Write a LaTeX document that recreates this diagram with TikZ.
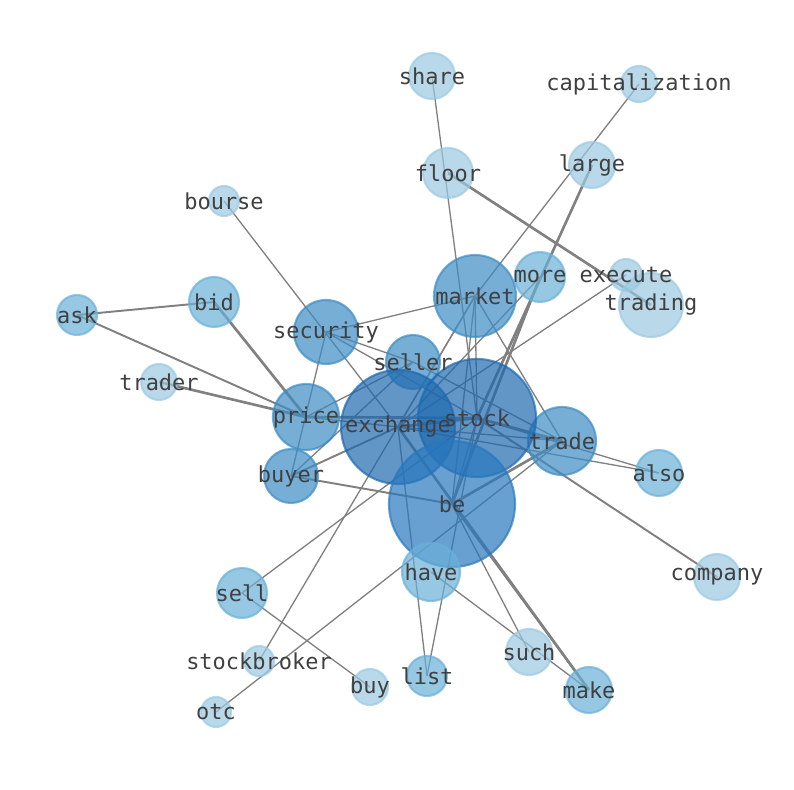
\documentclass[tikz,border=0pt]{standalone}
\usepackage{fontspec}
\newfontfamily\rotulofont{DejaVu Sans Mono}
\usetikzlibrary{backgrounds}
\definecolor{azulA}{RGB}{30,105,175}
\definecolor{azulB}{RGB}{40,120,190}
\definecolor{azulC}{RGB}{60,140,196}
\definecolor{azulD}{RGB}{105,176,216}
\definecolor{azulE}{RGB}{155,201,225}
\definecolor{cinza}{RGB}{128,128,128}
\begin{document}
\begin{tikzpicture}
\tikzset{
    aresta/.style={-, line width=0.75pt, draw=cinza},
    arestamedia/.style={-, line width=1.1pt, draw=cinza},
    arestagrossa/.style={-, line width=1.5pt, draw=cinza},
    vertice/.style={circle, inner sep=0pt, line width=1.2pt,
                    fill opacity=0.7, draw opacity=0.7, minimum size=#1},
    nivelA/.style={fill=azulA, draw=azulA},
    nivelB/.style={fill=azulB, draw=azulB},
    nivelC/.style={fill=azulC, draw=azulC},
    nivelD/.style={fill=azulD, draw=azulD},
    nivelE/.style={fill=azulE, draw=azulE},
    rotulo/.style={font=\rotulofont\fontsize{12.5}{15}\selectfont,
                   text=black!75, inner sep=0pt}
}
\useasboundingbox (0,0) rectangle (15.88,15.8);
% vertices
\node[vertice=0.92cm, nivelE] (share)          at (8.64, 14.28) {};
\node[vertice=0.72cm, nivelE] (capitalization) at (12.78,14.12) {};
\node[vertice=1.00cm, nivelE] (floor)          at (8.96, 12.34) {};
\node[vertice=0.92cm, nivelE] (large)          at (11.84,12.50) {};
\node[vertice=0.60cm, nivelE] (bourse)         at (4.48, 11.78) {};
\node[vertice=1.28cm, nivelE] (trading)        at (13.02, 9.70) {};
\node[vertice=0.64cm, nivelE] (execute)        at (12.52,10.30) {};
\node[vertice=1.00cm, nivelD] (more)           at (10.80,10.26) {};
\node[vertice=1.64cm, nivelC] (market)         at (9.50,  9.88) {};
\node[vertice=1.00cm, nivelD] (bid)            at (4.28,  9.76) {};
\node[vertice=0.80cm, nivelD] (ask)            at (1.54,  9.50) {};
\node[vertice=1.28cm, nivelC] (security)       at (6.52,  9.16) {};
\node[vertice=1.08cm, nivelC] (seller)         at (8.26,  8.56) {};
\node[vertice=0.72cm, nivelE] (trader)         at (3.18,  8.16) {};
\node[vertice=1.32cm, nivelC] (price)          at (6.12,  7.46) {};
\node[vertice=1.36cm, nivelC] (trade)          at (11.24, 6.98) {};
\node[vertice=0.92cm, nivelD] (also)           at (13.18, 6.34) {};
\node[vertice=1.08cm, nivelC] (buyer)          at (5.82,  6.28) {};
\node[vertice=2.28cm, nivelA] (exchange)       at (7.96,  7.26) {};
\node[vertice=2.36cm, nivelA] (stock)          at (9.54,  7.44) {};
\node[vertice=2.52cm, nivelB] (be)             at (9.04,  5.72) {};
\node[vertice=1.16cm, nivelD] (have)           at (8.62,  4.36) {};
\node[vertice=1.00cm, nivelD] (sell)           at (4.84,  3.94) {};
\node[vertice=0.92cm, nivelE] (company)        at (14.34, 4.26) {};
\node[vertice=0.92cm, nivelE] (such)           at (10.58, 2.76) {};
\node[vertice=0.60cm, nivelE] (stockbroker)    at (5.18,  2.58) {};
\node[vertice=0.72cm, nivelE] (buy)            at (7.40,  2.06) {};
\node[vertice=0.80cm, nivelD] (list)           at (8.54,  2.28) {};
\node[vertice=0.92cm, nivelD] (make)           at (11.78, 2.00) {};
\node[vertice=0.60cm, nivelE] (otc)            at (4.32,  1.56) {};
% arestas
\begin{pgfonlayer}{background}
\draw[aresta] (share.center) -- (stock.center);
\draw[aresta] (capitalization.center) -- (market.center);
\draw[arestagrossa] (floor.center) -- (trading.center);
\draw[arestagrossa] (large.center) -- (stock.center);
\draw[arestagrossa] (more.center) -- (be.center);
\draw[aresta] (more.center) -- (exchange.center);
\draw[aresta] (execute.center) -- (exchange.center);
\draw[aresta] (bourse.center) -- (exchange.center);
\draw[arestamedia] (ask.center) -- (bid.center);
\draw[arestamedia] (ask.center) -- (price.center);
\draw[arestagrossa] (bid.center) -- (price.center);
\draw[arestagrossa] (trader.center) -- (price.center);
\draw[aresta] (security.center) -- (market.center);
\draw[aresta] (security.center) -- (seller.center);
\draw[aresta] (security.center) -- (stock.center);
\draw[aresta] (security.center) -- (buyer.center);
\draw[aresta] (seller.center) -- (price.center);
\draw[aresta] (seller.center) -- (buyer.center);
\draw[aresta] (seller.center) -- (trade.center);
\draw[arestagrossa] (price.center) -- (stock.center);
\draw[aresta] (price.center) -- (exchange.center);
\draw[arestamedia] (buyer.center) -- (exchange.center);
\draw[arestamedia] (buyer.center) -- (be.center);
\draw[arestagrossa] (exchange.center) -- (stock.center);
\draw[aresta] (exchange.center) -- (trade.center);
\draw[aresta] (exchange.center) -- (also.center);
\draw[arestagrossa] (exchange.center) -- (make.center);
\draw[aresta] (stock.center) -- (also.center);
\draw[arestagrossa] (stock.center) -- (trade.center);
\draw[aresta] (stock.center) -- (be.center);
\draw[arestamedia] (stock.center) -- (company.center);
\draw[aresta] (market.center) -- (trade.center);
\draw[aresta] (market.center) -- (stock.center);
\draw[aresta] (market.center) -- (be.center);
\draw[aresta] (market.center) -- (exchange.center);
\draw[aresta] (market.center) -- (stockbroker.center);
\draw[arestagrossa] (trade.center) -- (be.center);
\draw[aresta] (sell.center) -- (stock.center);
\draw[aresta] (sell.center) -- (buy.center);
\draw[aresta] (otc.center) -- (trade.center);
\draw[aresta] (have.center) -- (make.center);
\draw[aresta] (be.center) -- (such.center);
\draw[arestamedia] (be.center) -- (make.center);
\draw[aresta] (list.center) -- (exchange.center);
\draw[aresta] (list.center) -- (stock.center);
\end{pgfonlayer}
% rotulos
\node[rotulo] (tshare)          at (share)          {share};
\node[rotulo] (tcapitalization) at (capitalization) {capitalization};
\node[rotulo] (tfloor)          at (floor)          {floor};
\node[rotulo] (tlarge)          at (large)          {large};
\node[rotulo] (tbourse)         at (bourse)         {bourse};
\node[rotulo] (ttrading)        at (trading)        {trading};
\node[rotulo] (texecute)        at (execute)        {execute};
\node[rotulo] (tmore)           at (more)           {more};
\node[rotulo] (tmarket)         at (market)         {market};
\node[rotulo] (tbid)            at (bid)            {bid};
\node[rotulo] (task)            at (ask)            {ask};
\node[rotulo] (tsecurity)       at (security)       {security};
\node[rotulo] (tseller)         at (seller)         {seller};
\node[rotulo] (ttrader)         at (trader)         {trader};
\node[rotulo] (tprice)          at (price)          {price};
\node[rotulo] (ttrade)          at (trade)          {trade};
\node[rotulo] (talso)           at (also)           {also};
\node[rotulo] (tbuyer)          at (buyer)          {buyer};
\node[rotulo] (texchange)       at (exchange)       {exchange};
\node[rotulo] (tstock)          at (stock)          {stock};
\node[rotulo] (tbe)             at (be)             {be};
\node[rotulo] (thave)           at (have)           {have};
\node[rotulo] (tsell)           at (sell)           {sell};
\node[rotulo] (tcompany)        at (company)        {company};
\node[rotulo] (tsuch)           at (such)           {such};
\node[rotulo] (tstockbroker)    at (stockbroker)    {stockbroker};
\node[rotulo] (tbuy)            at (buy)            {buy};
\node[rotulo] (tlist)           at (list)           {list};
\node[rotulo] (tmake)           at (make)           {make};
\node[rotulo] (totc)            at (otc)            {otc};
\end{tikzpicture}
\end{document}
